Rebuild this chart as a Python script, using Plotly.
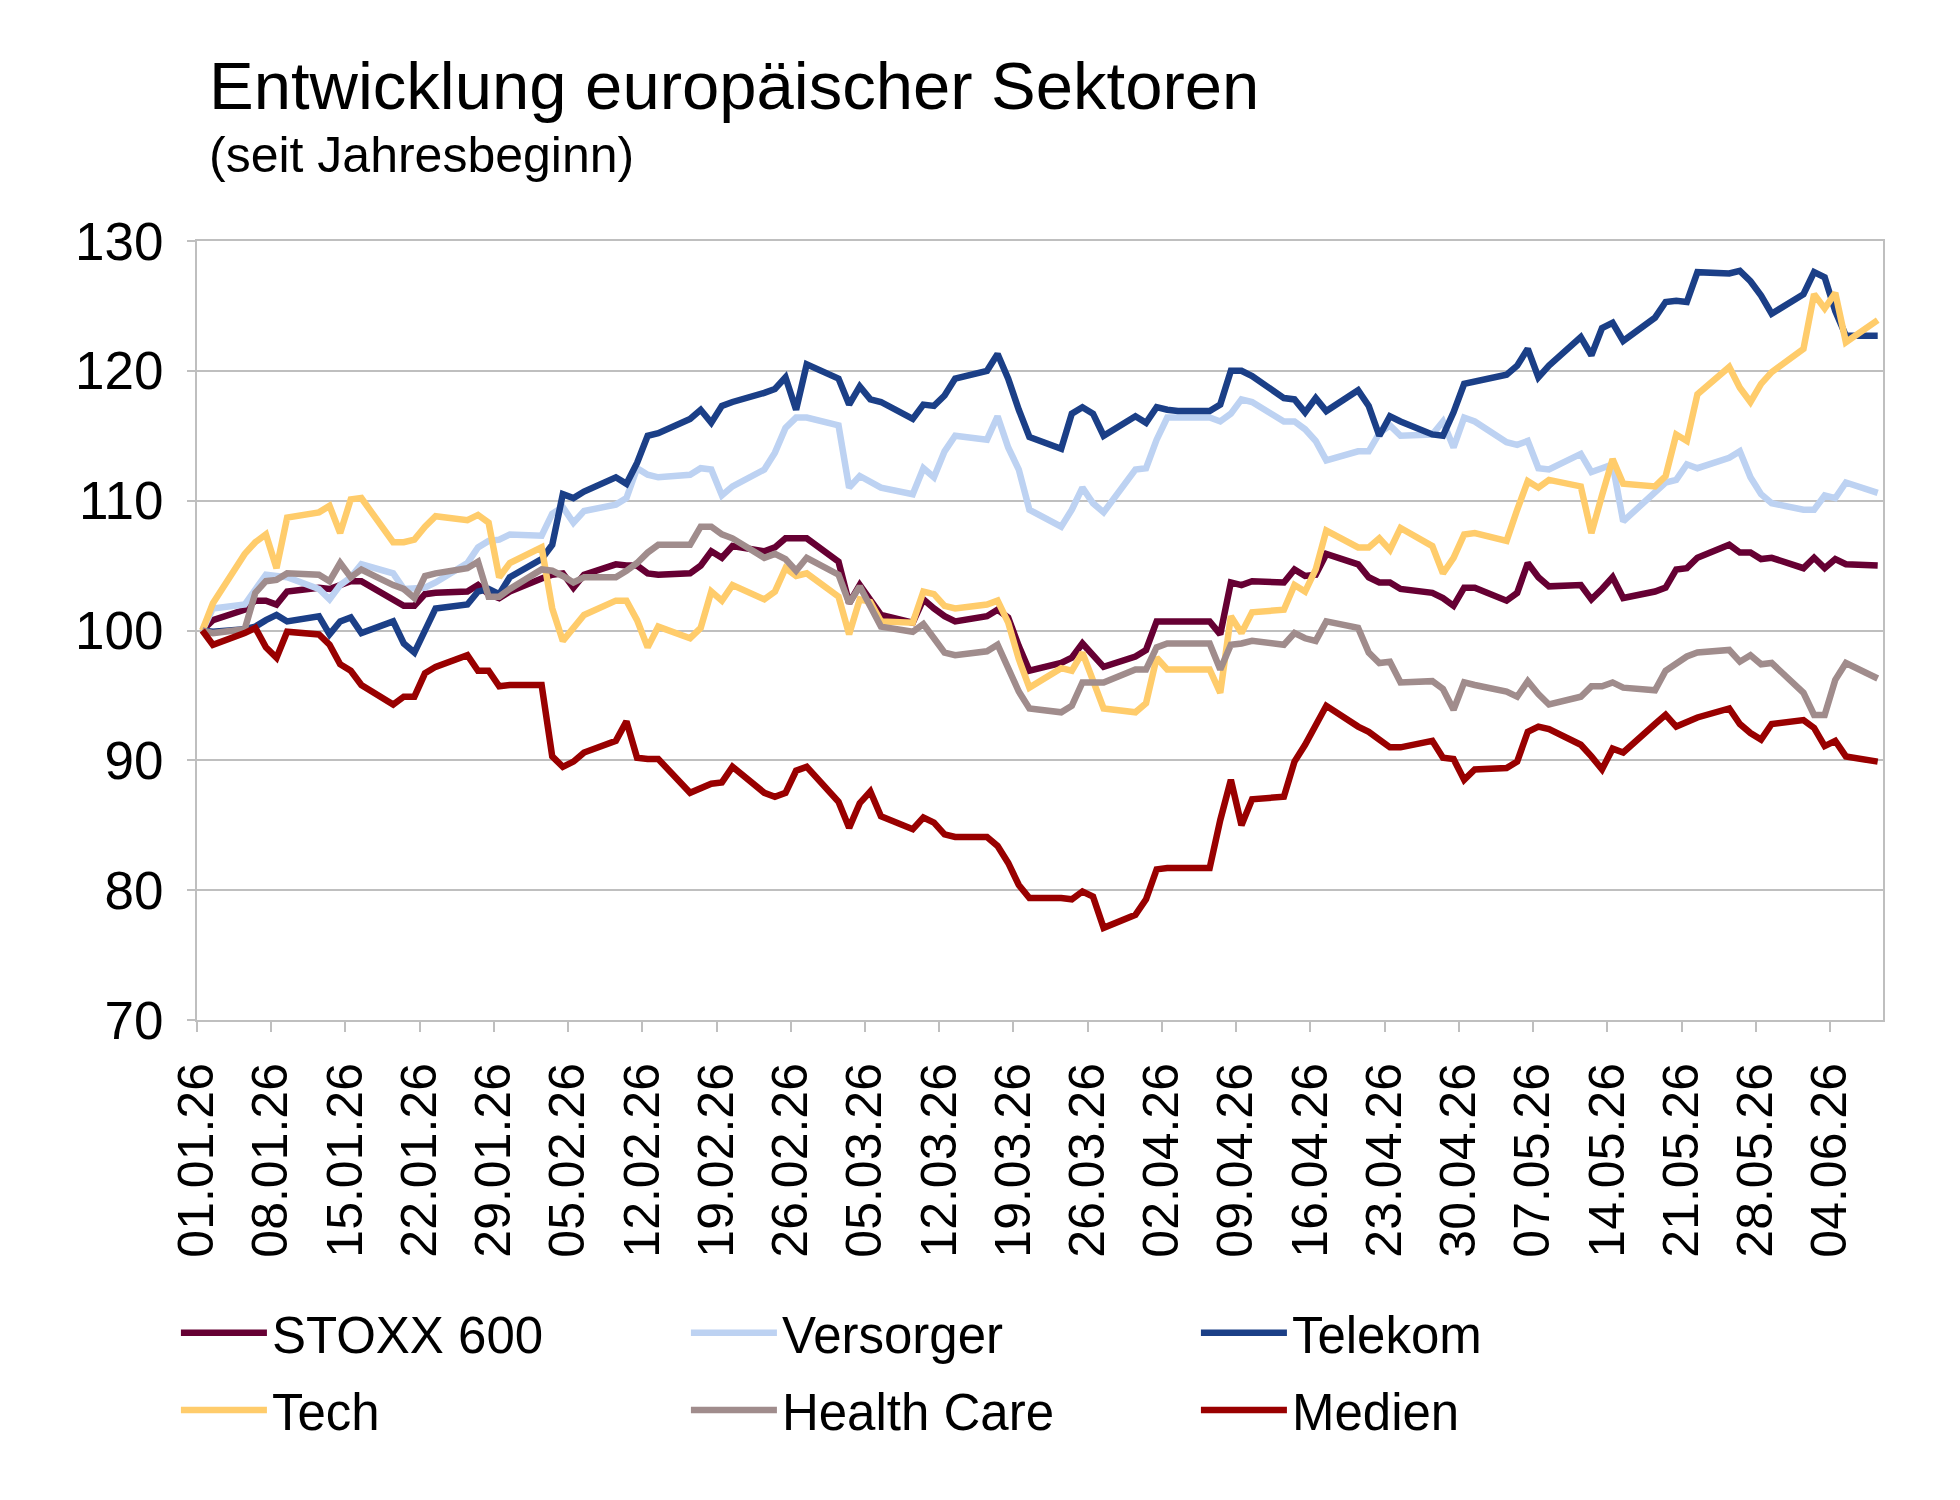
import plotly.graph_objects as go

# Trading days (day of month) per month, 2026
JAN = [1, 2, 5, 6, 7, 8, 9, 12, 13, 14, 15, 16, 19, 20, 21, 22, 23, 26, 27, 28, 29, 30]
FEB = [2, 3, 4, 5, 6, 9, 10, 11, 12, 13, 16, 17, 18, 19, 20, 23, 24, 25, 26, 27]
MAR = [2, 3, 4, 5, 6, 9, 10, 11, 12, 13, 16, 17, 18, 19, 20, 23, 24, 25, 26, 27, 30, 31]
APR = [1, 2, 3, 6, 7, 8, 9, 10, 13, 14, 15, 16, 17, 20, 21, 22, 23, 24, 27, 28, 29, 30]
MAY = [1, 4, 5, 6, 7, 8, 11, 12, 13, 14, 15, 18, 19, 20, 21, 22, 25, 26, 27, 28, 29]
JUN = [1, 2, 3, 4, 5, 8]

stoxx600 = [100, 100.8, 101.6, 102.3, 102.3, 102.0, 103.0, 103.3, 103.2, 103.5, 103.8, 103.8, 102.4, 101.9, 101.9, 102.8, 102.9, 103.0, 103.5, 102.8, 102.5, 103.0,
            104.0, 104.3, 104.4, 103.3, 104.3, 105.1, 105.0, 105.0, 104.4, 104.3, 104.4, 105.0, 106.1, 105.6, 106.5, 106.1, 106.4, 107.1, 107.1, 107.1,
            105.3, 102.1, 103.5, 102.4, 101.2, 100.6, 102.4, 101.7, 101.1, 100.7, 101.1, 101.6, 101.0, 98.8, 96.9, 97.5, 97.9, 99.0, 98.1, 97.2, 98.0, 98.5,
            100.7, 100.7, 100.7, 100.7, 99.7, 103.7, 103.5, 103.8, 103.7, 104.7, 104.2, 104.3, 105.9, 105.1, 104.1, 103.7, 103.7, 103.2, 102.9, 102.5, 101.9, 103.3,
            103.3, 102.3, 102.9, 105.2, 104.1, 103.4, 103.5, 102.4, 103.2, 104.1, 102.5, 103.0, 103.3, 104.7, 104.8, 105.6, 106.6, 106.0, 106.0, 105.5, 105.6,
            104.8, 105.6, 104.8, 105.5, 105.1, 105.0]

versorger = [100, 101.7, 102.0, 103.2, 104.3, 104.2, 104.1, 103.2, 102.4, 103.5, 104.1, 105.1, 104.4, 103.2, 103.2, 103.3, 103.7, 105.2, 106.4, 106.9, 107.0, 107.4,
             107.3, 109.0, 109.5, 108.3, 109.2, 109.7, 110.2, 112.5, 112.0, 111.8, 112.0, 112.5, 112.4, 110.4, 111.1, 112.4, 113.7, 115.6, 116.4, 116.4,
             115.8, 111.0, 111.9, 111.5, 111.0, 110.5, 112.5, 111.8, 113.8, 115.0, 114.7, 116.5, 114.1, 112.4, 109.3, 108.0, 109.3, 111.0, 109.8, 109.1, 112.4, 112.5,
             114.7, 116.4, 116.4, 116.4, 116.1, 116.7, 117.8, 117.6, 116.1, 116.1, 115.5, 114.6, 113.1, 113.8, 113.8, 115.2, 115.8, 115.0, 115.1, 116.1, 114.1, 116.4,
             116.1, 114.5, 114.3, 114.6, 112.5, 112.4, 113.6, 112.2, 112.5, 112.8, 108.4, 110.7, 111.4, 111.6, 112.8, 112.5, 113.3, 113.8, 111.8, 110.5, 109.8,
             109.3, 109.3, 110.4, 110.2, 111.4, 110.6]

telekom = [100, 99.9, 100.1, 100.3, 100.8, 101.2, 100.7, 101.1, 99.7, 100.7, 101.0, 99.8, 100.7, 99.0, 98.3, 99.9, 101.7, 102.0, 103.0, 103.2, 102.8, 104.1,
           105.5, 106.6, 110.5, 110.2, 110.7, 111.8, 111.3, 112.9, 115.0, 115.2, 116.3, 117.0, 116.0, 117.3, 117.6, 118.3, 118.6, 119.5, 117.0, 120.5,
           119.4, 117.4, 118.8, 117.8, 117.6, 116.3, 117.4, 117.3, 118.1, 119.4, 120.0, 121.3, 119.4, 117.0, 114.9, 114.0, 116.7, 117.2, 116.7, 115.0, 116.5, 116.0,
           117.2, 117.0, 116.9, 116.9, 117.4, 120.0, 120.0, 119.6, 117.9, 117.8, 116.8, 117.9, 116.9, 118.5, 117.3, 115.0, 116.5, 116.1, 115.1, 115.0, 116.8, 119.0,
           119.2, 119.7, 120.4, 121.7, 119.5, 120.4, 122.6, 121.2, 123.3, 123.7, 122.3, 124.1, 125.3, 125.4, 125.3, 127.6, 127.5, 127.7, 126.9, 125.8, 124.4,
           125.9, 127.6, 127.2, 124.6, 122.7, 122.7]

tech = [100, 102.1, 105.9, 106.8, 107.4, 104.8, 108.7, 109.1, 109.6, 107.5, 110.1, 110.2, 106.8, 106.8, 107.0, 108.0, 108.8, 108.5, 108.9, 108.3, 104.1, 105.2,
        106.4, 101.7, 99.2, 100.2, 101.2, 102.3, 102.3, 100.8, 98.7, 100.3, 99.4, 100.2, 103.0, 102.3, 103.5, 102.4, 103.0, 104.8, 104.2, 104.4,
        102.6, 99.7, 102.4, 102.2, 100.7, 100.6, 103.0, 102.8, 101.9, 101.7, 102.0, 102.3, 100.6, 97.8, 95.6, 97.1, 96.9, 98.3, 96.1, 94.0, 93.7, 94.4,
        97.9, 97.0, 97.0, 97.0, 95.2, 101.1, 99.8, 101.4, 101.6, 103.5, 103.0, 104.7, 107.7, 106.4, 106.4, 107.1, 106.2, 107.9, 106.5, 104.4, 105.6, 107.4,
        107.5, 106.9, 109.3, 111.5, 111.0, 111.6, 111.1, 107.5, 110.4, 113.2, 111.3, 111.1, 111.9, 115.1, 114.6, 118.2, 120.3, 118.7, 117.6, 119.0, 119.9,
        121.7, 125.9, 124.8, 126.0, 122.2, 123.9]

health_care = [100, 99.8, 100.1, 102.9, 103.8, 103.9, 104.4, 104.3, 103.8, 105.2, 104.1, 104.7, 103.5, 103.2, 102.5, 104.2, 104.4, 104.8, 105.3, 102.6, 102.6, 103.2,
               104.7, 104.6, 104.2, 103.7, 104.1, 104.1, 104.6, 105.2, 106.0, 106.6, 106.6, 108.0, 108.0, 107.4, 107.1, 105.6, 105.9, 105.5, 104.6, 105.6,
               104.3, 102.1, 103.4, 101.9, 100.3, 99.9, 100.5, 99.4, 98.3, 98.1, 98.4, 98.9, 97.2, 95.3, 94.0, 93.7, 94.2, 96.0, 96.0, 96.0, 97.0, 97.0,
               98.7, 99.0, 99.0, 99.0, 97.0, 98.9, 99.0, 99.2, 98.9, 99.8, 99.4, 99.2, 100.7, 100.2, 98.3, 97.5, 97.6, 96.0, 96.1, 95.5, 93.9, 96.0,
               95.8, 95.3, 94.9, 96.1, 95.1, 94.3, 94.9, 95.7, 95.7, 96.0, 95.6, 95.4, 96.9, 97.5, 98.0, 98.3, 98.5, 97.6, 98.1, 97.4, 97.5,
               95.2, 93.5, 93.5, 96.2, 97.5, 96.3]

medien = [100, 98.9, 99.8, 100.2, 98.7, 97.9, 99.9, 99.7, 98.9, 97.4, 96.9, 95.8, 94.3, 94.9, 94.9, 96.7, 97.2, 98.1, 96.9, 96.9, 95.7, 95.8,
          95.8, 90.3, 89.5, 89.9, 90.6, 91.5, 93.0, 90.2, 90.1, 90.1, 87.5, 87.9, 88.2, 88.3, 89.5, 87.5, 87.2, 87.5, 89.2, 89.5,
          86.8, 84.8, 86.7, 87.6, 85.7, 84.7, 85.6, 85.2, 84.3, 84.1, 84.1, 83.4, 82.1, 80.4, 79.4, 79.4, 79.3, 79.9, 79.5, 77.1, 78.1, 79.3,
          81.6, 81.7, 81.7, 81.7, 85.4, 88.5, 85.0, 87.0, 87.2, 89.9, 91.2, 92.6, 94.2, 92.6, 92.2, 91.6, 91.0, 91.0, 91.5, 90.2, 90.1, 88.5,
          89.3, 89.4, 89.9, 92.2, 92.6, 92.4, 91.2, 90.3, 89.3, 90.9, 90.6, 92.8, 93.5, 92.6, 92.9, 93.3, 94.0, 92.8, 92.1, 91.6, 92.8,
          93.1, 92.5, 91.1, 91.5, 90.3, 89.9]

# (name, values, colour, legend row)
SERIES = [
    ("STOXX 600", stoxx600, "#660033", "legend"),
    ("Versorger", versorger, "#BDD2F2", "legend"),
    ("Telekom", telekom, "#1B3F87", "legend"),
    ("Tech", tech, "#FFCC6B", "legend2"),
    ("Health Care", health_care, "#A08C8C", "legend2"),
    ("Medien", medien, "#990000", "legend2"),
]

# daily closes plotted at mid-day of each trading date
dates = []
for month, days in [(1, JAN), (2, FEB), (3, MAR), (4, APR), (5, MAY), (6, JUN)]:
    for d in days:
        dates.append(f"2026-{month:02d}-{d:02d} 12:00")

FONT = "Liberation Sans, Arial, sans-serif"
fig = go.Figure()
for name, vals, col, leg in SERIES:
    fig.add_trace(go.Scatter(x=dates, y=vals, name=name, mode="lines", legend=leg,
                             line=dict(color=col, width=6.5)))

GRID = "#BFBFBF"
LEG = dict(orientation="h", xanchor="left", yanchor="middle",
           entrywidth=409, entrywidthmode="pixels", itemwidth=86,
           font=dict(size=51, family=FONT, color="black"), traceorder="normal",
           bgcolor="rgba(0,0,0,0)")
fig.update_layout(
    width=1960, height=1500,
    margin=dict(l=197, r=77, t=241, b=480),
    paper_bgcolor="white", plot_bgcolor="white",
    font=dict(family=FONT, size=50, color="black"),
    showlegend=True,
    legend=dict(LEG, x=-0.0125, y=-0.402),
    legend2=dict(LEG, x=-0.0125, y=-0.501),
    xaxis=dict(type="date", range=["2026-01-01 00:00", "2026-06-09 00:00"],
               tick0="2026-01-01", dtick=7 * 86400000, tickformat="%d.%m.%y",
               tickangle=-90, ticks="outside", ticklen=10, tickwidth=2, tickcolor=GRID,
               showgrid=False, showline=True, linecolor=GRID, linewidth=2, mirror=True,
               ticklabelstandoff=11, tickfont=dict(size=50)),
    yaxis=dict(range=[70, 130], dtick=10, tick0=70, ticks="outside", ticklen=8, tickwidth=2,
               tickcolor=GRID, showgrid=True, gridcolor=GRID, gridwidth=2,
               showline=True, linecolor=GRID, linewidth=2, mirror=True, zeroline=False,
               ticklabelstandoff=13, tickfont=dict(size=53)),
)

fig.add_annotation(text="Entwicklung europäischer Sektoren", xref="paper", yref="paper",
                   x=0.006, y=1.199, xanchor="left", yanchor="middle", showarrow=False,
                   font=dict(size=67, family=FONT, color="black"))
fig.add_annotation(text="(seit Jahresbeginn)", xref="paper", yref="paper",
                   x=0.006, y=1.110, xanchor="left", yanchor="middle", showarrow=False,
                   font=dict(size=50, family=FONT, color="black"))

fig.write_html("out.html")
